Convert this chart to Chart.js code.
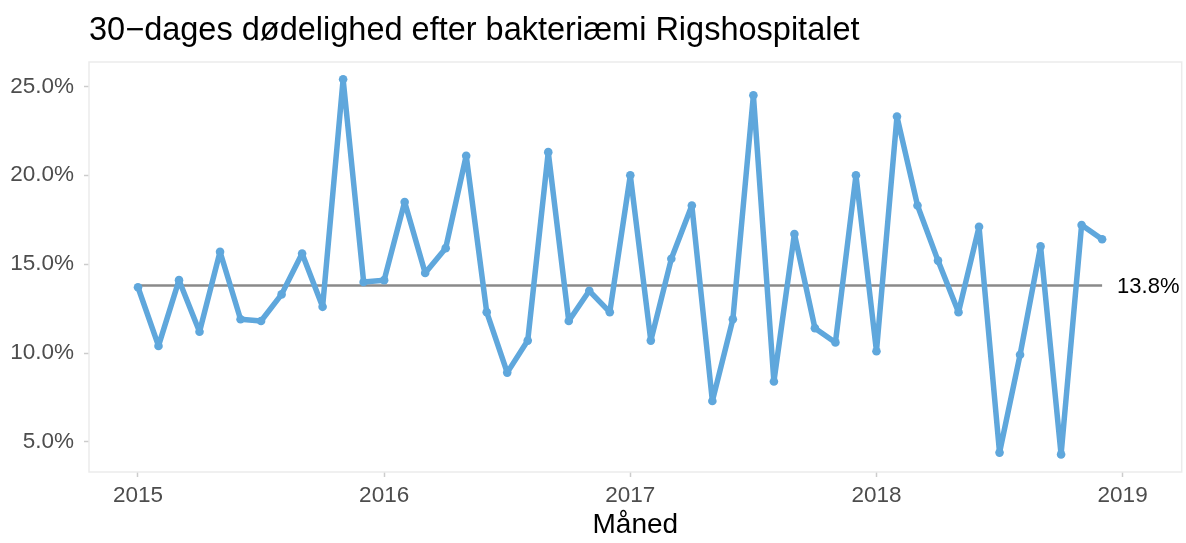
<!DOCTYPE html>
<html>
<head>
<meta charset="utf-8">
<script src="https://cdn.jsdelivr.net/npm/chart.js@4"></script>
<style>
  html, body { margin: 0; padding: 0; background: #fff; }
  canvas { display: block; }
</style>
</head>
<body>
<canvas id="grafico" width="1186" height="543"></canvas>
<script>
// data: one value per month, 2015-01 .. 2018-12
const maaneder = [
  '2015-01','2015-02','2015-03','2015-04','2015-05','2015-06','2015-07','2015-08','2015-09','2015-10','2015-11','2015-12',
  '2016-01','2016-02','2016-03','2016-04','2016-05','2016-06','2016-07','2016-08','2016-09','2016-10','2016-11','2016-12',
  '2017-01','2017-02','2017-03','2017-04','2017-05','2017-06','2017-07','2017-08','2017-09','2017-10','2017-11','2017-12',
  '2018-01','2018-02','2018-03','2018-04','2018-05','2018-06','2018-07','2018-08','2018-09','2018-10','2018-11','2018-12'
]
const doedelighed = [
  13.7, 10.4, 14.1, 11.2, 15.7, 11.9, 11.8, 13.3, 15.6, 12.6, 25.4, 14.0,
  14.1, 18.5, 14.5, 15.9, 21.1, 12.3, 8.9, 10.7, 21.3, 11.8, 13.5, 12.3,
  20.0, 10.7, 15.3, 18.3, 7.3, 11.9, 24.5, 8.4, 16.7, 11.4, 10.6, 20.0,
  10.1, 23.3, 18.3, 15.2, 12.3, 17.1, 4.4, 9.9, 16.0, 4.3, 17.2, 16.4
]
const gennemsnit = 13.8
const aarTicks = [2015, 2016, 2017, 2018, 2019]
const procentTicks = [5, 10, 15, 20, 25]

const titel = '30\u2212dages dødelighed efter bakteriæmi Rigshospitalet'
const blaa = '#5fa7dc'
const graa = '#8a8a8a'
const tickGraa = '#4d4d4d'
const kantGraa = '#ebebeb'
const skrift = '"Liberation Sans", Arial, sans-serif'

// month string -> decimal year on the linear x-scale
function tilAar(m) {
  const [a, md] = m.split('-').map(Number)
  return a + (md - 1) / 12
}

const punkter = maaneder.map((m, i) => ({ x: tilAar(m), y: doedelighed[i] }))
const linje = [
  { x: tilAar(maaneder[0]), y: gennemsnit },
  { x: tilAar(maaneder[maaneder.length - 1]), y: gennemsnit }
]

// title, panel border and the label at the end of the mean line
const pynt = {
  id: 'pynt',
  afterDraw(chart) {
    const { ctx, chartArea: a, scales } = chart
    ctx.save()
    ctx.strokeStyle = kantGraa
    ctx.lineWidth = 1.5
    ctx.strokeRect(a.left, a.top, a.right - a.left, a.bottom - a.top)

    ctx.fillStyle = '#000'
    ctx.font = '32.5px ' + skrift
    ctx.textBaseline = 'alphabetic'
    ctx.textAlign = 'left'
    ctx.fillText(titel, 89, 40)

    const sidst = linje[linje.length - 1]
    ctx.font = '22px ' + skrift
    ctx.textBaseline = 'middle'
    ctx.fillText(gennemsnit.toFixed(1) + '%', scales.x.getPixelForValue(sidst.x) + 15, scales.y.getPixelForValue(sidst.y) + 1)
    ctx.restore()
  }
}

const tickFont = { family: skrift, size: 22.5 }

new Chart(document.getElementById('grafico'), {
  type: 'line',
  data: {
    datasets: [
      {
        data: punkter,
        borderColor: blaa,
        backgroundColor: blaa,
        borderWidth: 5.5,
        borderJoinStyle: 'round',
        borderCapStyle: 'round',
        pointRadius: 4.3,
        pointBorderWidth: 0,
        pointHoverRadius: 4.3,
        tension: 0,
        order: 1
      },
      {
        data: linje,
        borderColor: graa,
        borderWidth: 2.5,
        pointRadius: 0,
        tension: 0,
        order: 2
      }
    ]
  },
  options: {
    responsive: false,
    animation: false,
    events: [],
    layout: { padding: { top: 62, right: 1, left: 0, bottom: 0 } },
    plugins: {
      legend: { display: false },
      tooltip: { enabled: false }
    },
    scales: {
      x: {
        type: 'linear',
        min: 2014.801,
        max: 2019.24,
        afterBuildTicks: s => { s.ticks = aarTicks.map(v => ({ value: v })) },
        afterFit: s => { s.height = 71 },
        grid: { drawOnChartArea: false, tickLength: 5, tickColor: '#cccccc', tickWidth: 1.5 },
        border: { display: false },
        ticks: { color: tickGraa, font: tickFont, padding: 5, maxRotation: 0, callback: v => String(v) },
        title: {
          display: true,
          text: 'Måned',
          color: '#000',
          font: { family: skrift, size: 28 },
          padding: { top: 0, bottom: 1 }
        }
      },
      y: {
        min: 3.31,
        max: 26.37,
        afterBuildTicks: s => { s.ticks = procentTicks.map(v => ({ value: v })) },
        afterFit: s => { s.width = 89 },
        grid: { drawOnChartArea: false, tickLength: 5, tickColor: '#cccccc', tickWidth: 1.5 },
        border: { display: false },
        ticks: { color: tickGraa, font: tickFont, padding: 10, callback: v => v.toFixed(1) + '%' }
      }
    }
  },
  plugins: [pynt]
})
</script>
</body>
</html>
